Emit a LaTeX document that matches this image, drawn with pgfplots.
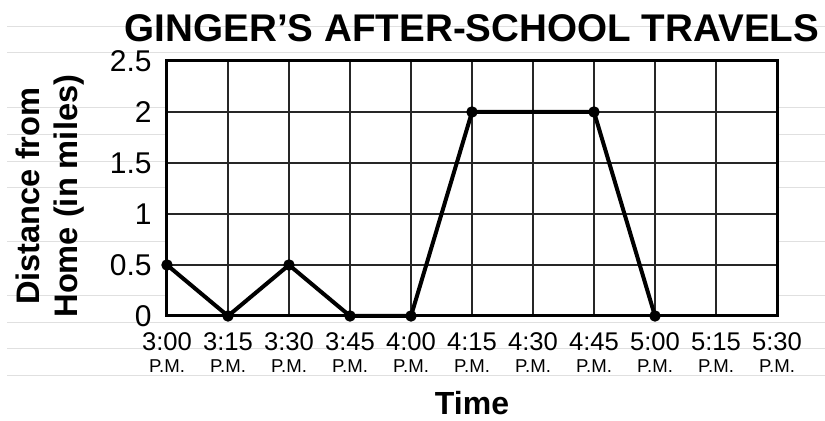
\documentclass[border=0pt]{standalone}
\usepackage{fontspec}
\setmainfont{Liberation Sans}
\usepackage{pgfplots}
\pgfplotsset{compat=1.18}
\begin{document}
\begin{tikzpicture}
\useasboundingbox (0,0) rectangle (412.5pt,210.5pt);
\begin{scope}[x=0.5pt,y=0.5pt]
\foreach \yy in {27,53,108,135,162,188,242,296,323,349,376} {
  \draw[black!12, line width=0.5pt] (7,421-\yy) -- (825,421-\yy);
}
\end{scope}
\begin{axis}[
  at={(83.5pt,52.5pt)}, anchor=south west,
  scale only axis, width=305pt, height=127.5pt,
  xmin=0, xmax=10, ymin=0, ymax=2.5,
  xtick={0,1,2,3,4,5,6,7,8,9,10},
  ytick={0,0.5,1,1.5,2,2.5},
  yticklabels={0,0.5,1,1.5,2,2.5},
  xticklabels={
    {3:00\\[-1pt]{\fontsize{9.3}{9}\selectfont P.M.}},
    {3:15\\[-1pt]{\fontsize{9.3}{9}\selectfont P.M.}},
    {3:30\\[-1pt]{\fontsize{9.3}{9}\selectfont P.M.}},
    {3:45\\[-1pt]{\fontsize{9.3}{9}\selectfont P.M.}},
    {4:00\\[-1pt]{\fontsize{9.3}{9}\selectfont P.M.}},
    {4:15\\[-1pt]{\fontsize{9.3}{9}\selectfont P.M.}},
    {4:30\\[-1pt]{\fontsize{9.3}{9}\selectfont P.M.}},
    {4:45\\[-1pt]{\fontsize{9.3}{9}\selectfont P.M.}},
    {5:00\\[-1pt]{\fontsize{9.3}{9}\selectfont P.M.}},
    {5:15\\[-1pt]{\fontsize{9.3}{9}\selectfont P.M.}},
    {5:30\\[-1pt]{\fontsize{9.3}{9}\selectfont P.M.}}},
  grid=major,
  grid style={black!85, line width=1pt},
  axis line style={line width=1.5pt},
  major tick length=0pt,
  axis background/.style={fill=white},
  clip=false,
  /pgf/number format/assume math mode=true,
  yticklabel style={font=\fontsize{15}{15}\selectfont, anchor=east, inner sep=0pt, xshift=-7.5pt},
  xticklabel style={align=center, font=\fontsize{12.8}{12}\selectfont, anchor=north, inner sep=0pt, yshift=-8pt},
  title={GINGER’S AFTER-SCHOOL TRAVELS},
  title style={at={(axis description cs:0.5,1.031)}, anchor=base, inner sep=0pt, font=\bfseries\fontsize{19.3}{23}\selectfont},
  xlabel={Time},
  xlabel style={at={(axis description cs:0.5,-0.388)}, anchor=base, inner sep=0pt, font=\bfseries\fontsize{16}{19}\selectfont},
  ylabel={Distance from\\Home (in miles)},
  ylabel style={at={(axis description cs:-0.192,0.47)}, anchor=center, align=center, inner sep=0pt, font=\bfseries\fontsize{16.3}{19}\selectfont},
]
\addplot[black, line width=2pt, line join=round, mark=*, mark size=2.6pt, mark options={solid, fill=black, line width=0.5pt}]
  coordinates {(0,0.5) (1,0) (2,0.5) (3,0) (4,0) (5,2) (7,2) (8,0)};
\end{axis}
\end{tikzpicture}
\end{document}
